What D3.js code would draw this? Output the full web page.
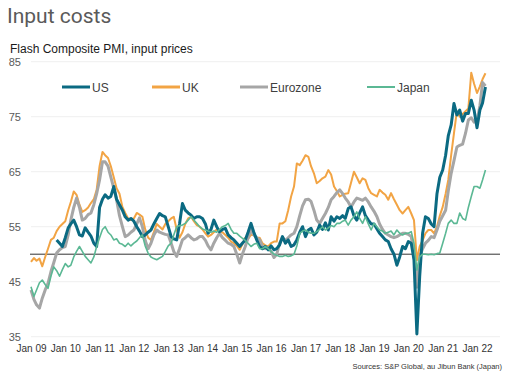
<!DOCTYPE html>
<html><head><meta charset="utf-8">
<script src="https://cdn.jsdelivr.net/npm/d3@7"></script>
<style>
body{margin:0;background:#fff;}
svg{display:block;font-family:"Liberation Sans",Arial,sans-serif;}
</style></head>
<body><svg id="c" width="529" height="380"></svg>
<script>
const title = "Input costs";
const subtitle = "Flash Composite PMI, input prices";
const source = "Sources: S&P Global, au Jibun Bank (Japan)";
const seriesNames = ["US","UK","Eurozone","Japan"];
const seriesColors = ["#0b6a82","#f2a444","#a6a6a6","#5bb894"];
const yTicks = [35,45,55,65,75,85];
const xTickLabels = ["Jan 09","Jan 10","Jan 11","Jan 12","Jan 13","Jan 14","Jan 15","Jan 16","Jan 17","Jan 18","Jan 19","Jan 20","Jan 21","Jan 22"];
const refLine = 50;

const ukValues = [
48.6,49.3,48.8,49.2,47.8,49.5,51.0,52.6,53.0,54.2,55.0,55.5,
56.0,58.0,59.5,61.4,60.8,59.0,57.7,58.0,58.5,59.3,60.0,61.7,
66.0,68.6,68.0,67.5,66.0,64.0,62.0,61.0,58.6,57.5,56.5,56.2,
56.5,57.5,57.2,56.8,54.5,53.0,52.6,54.0,55.5,55.0,54.5,55.5,
56.0,56.5,56.8,54.5,53.0,54.0,55.5,56.5,56.8,56.0,55.3,55.0,
54.5,53.8,53.2,53.5,54.0,54.5,54.0,54.0,53.5,53.0,52.3,52.0,
51.5,50.8,51.8,53.0,52.8,53.5,53.5,53.0,53.0,52.0,51.6,51.4,
52.0,52.3,52.3,55.6,55.6,56.0,58.0,60.5,62.3,66.5,66.2,67.0,
68.0,67.7,66.0,64.7,62.9,63.3,63.8,64.1,65.3,64.5,62.3,61.5,
60.5,60.8,61.0,61.1,63.0,65.0,64.0,62.9,63.8,63.5,62.0,61.1,
60.8,60.5,61.7,61.2,60.8,59.9,61.1,60.0,59.0,58.0,57.4,58.0,
58.6,57.4,56.2,48.9,51.4,52.5,53.8,54.4,54.4,53.8,55.0,57.0,
58.6,61.0,63.5,68.0,72.0,76.0,75.0,75.5,76.0,76.5,83.0,81.0,
79.3,80.5,81.8,82.9];

const ezValues = [
43.5,41.8,40.8,40.2,42.0,43.5,44.7,46.8,48.5,50.2,50.8,51.2,
51.4,53.5,56.2,58.5,60.2,58.5,56.2,56.5,57.2,57.5,59.0,61.0,
63.5,66.8,66.8,66.0,64.0,62.0,59.9,57.0,55.0,53.2,53.5,54.0,
54.4,55.5,56.6,55.0,52.5,51.0,52.0,53.5,54.4,54.0,53.8,53.6,
53.5,52.0,50.5,49.6,51.0,52.6,53.0,53.5,53.0,52.6,52.8,53.2,
53.2,52.5,51.5,50.8,52.0,53.0,53.8,53.0,52.5,52.0,51.8,51.4,
50.0,48.4,50.0,51.4,53.0,54.4,53.5,53.0,52.6,51.4,51.0,51.2,
50.5,49.4,50.0,52.0,53.0,52.5,53.0,53.5,53.8,55.0,57.0,58.8,
59.9,60.0,59.6,58.0,56.2,55.6,56.5,57.4,58.5,59.9,60.5,61.2,
61.7,61.0,60.2,59.5,58.6,59.5,60.2,60.0,59.8,60.2,59.5,58.6,
57.8,56.8,55.5,54.5,53.8,53.5,53.2,53.0,53.2,53.5,53.8,53.8,
53.6,53.2,50.0,44.0,49.6,51.0,52.0,52.5,53.2,53.0,54.4,56.0,
57.0,58.0,61.5,64.7,67.0,69.5,69.8,70.0,72.0,74.4,74.8,74.0,
74.2,77.0,81.2,80.6];

const usValues = [
null,null,null,null,null,null,null,null,null,52.6,52.0,51.4,
53.0,54.8,55.5,56.2,55.0,53.5,53.3,54.8,54.0,53.3,52.0,51.4,
58.5,60.0,60.8,60.2,60.5,62.3,60.0,59.0,58.0,56.8,56.2,56.5,
56.0,55.0,54.2,53.2,53.5,54.0,54.4,55.5,56.5,57.4,57.0,56.8,
55.0,53.2,52.8,52.6,55.5,59.2,58.0,57.5,57.1,56.5,56.8,56.8,
56.5,55.5,53.8,54.5,56.2,55.0,54.1,54.5,54.7,53.5,53.0,52.6,
52.0,51.4,52.0,52.6,54.0,55.6,54.0,52.6,51.4,51.0,51.4,50.8,
51.5,50.8,51.0,51.7,53.2,52.0,52.6,51.4,51.7,52.6,54.0,55.0,
53.2,54.4,54.7,53.5,54.0,55.3,54.5,55.7,54.4,56.8,56.0,56.8,
56.5,57.0,56.5,58.3,58.6,57.0,56.2,57.5,58.6,57.0,56.2,55.5,
55.5,54.6,53.8,53.2,52.6,52.3,51.0,50.0,48.0,49.5,51.4,51.0,
52.3,52.0,49.0,35.5,46.0,53.8,56.8,56.5,55.5,55.0,61.0,64.0,
65.3,68.0,71.5,73.5,77.4,75.3,76.2,74.2,75.6,75.6,78.0,76.2,
73.0,76.2,77.5,80.4];

const japanValues = [
44.1,42.3,43.5,44.8,45.3,44.5,43.8,46.0,47.7,47.0,46.0,47.2,
48.3,47.7,48.0,49.5,50.5,51.4,50.5,49.6,49.0,48.4,49.5,51.4,
53.0,54.5,55.0,54.0,53.5,52.6,52.8,52.0,51.8,51.4,52.0,51.5,
52.0,52.4,53.0,53.5,51.5,50.2,49.5,49.2,49.0,49.3,49.6,50.5,
51.5,52.0,53.5,55.0,55.2,55.3,55.6,56.2,56.8,56.2,55.6,55.0,
54.6,54.4,54.2,54.0,54.2,54.0,54.5,55.0,55.2,55.6,54.5,53.8,
53.8,53.3,52.9,52.5,52.0,51.4,51.8,52.0,51.0,51.0,51.4,51.0,
50.5,50.0,49.8,49.6,49.6,49.8,49.6,49.7,50.0,51.5,53.8,54.2,
54.4,54.0,53.8,53.8,54.1,54.5,55.0,54.4,54.8,55.2,55.0,55.6,
55.6,56.0,56.2,55.3,56.2,56.8,57.7,56.5,55.6,56.8,55.5,54.4,
55.6,55.0,54.4,54.2,53.8,54.0,54.2,53.5,54.4,53.8,53.5,53.8,
53.8,54.1,52.0,47.1,49.5,50.0,50.0,49.9,50.0,49.9,50.1,50.2,
52.0,53.8,55.6,56.2,55.6,55.6,57.5,56.5,56.2,58.5,60.5,62.3,
62.3,62.0,63.5,65.3];

const seriesValues = [usValues, ukValues, ezValues, japanValues];
const strokeWidths = [3, 2, 3, 1.6];
const drawOrder = [1, 2, 0, 3];

const months = d3.timeMonth.range(new Date(2009,0,1), new Date(2022,4,1));
const tickDates = xTickLabels.map((_, i) => new Date(2009 + i, 0, 1));

const svg = d3.select("#c");
const x = d3.scaleTime().domain([new Date(2009,0,1), new Date(2022,0,1)]).range([31, 477]);
const y = d3.scaleLinear().domain([35, 85]).range([336.7, 61.7]);

svg.append("text").attr("x", 7).attr("y", 23).text(title)
  .attr("font-family", "Roboto, 'Liberation Sans', sans-serif")
  .attr("font-size", 21).attr("fill", "#5a5a5a");
svg.append("text").attr("x", 10).attr("y", 53).text(subtitle)
  .attr("font-size", 12).attr("fill", "#1a1a1a");

// grid
svg.append("g").selectAll("line").data(yTicks).join("line")
  .attr("x1", 31).attr("x2", 500)
  .attr("y1", d => y(d)).attr("y2", d => y(d))
  .attr("stroke", "#efefef").attr("stroke-width", 1);

// y axis labels
const ya = svg.append("g").attr("transform", "translate(21,0)")
  .call(d3.axisLeft(y).tickValues(yTicks).tickSize(0).tickPadding(0));
ya.select(".domain").remove();
ya.selectAll("text").attr("font-size", 11).attr("fill", "#5a5a5a")
  .attr("font-family", "'Liberation Sans', Arial, sans-serif");

// x axis labels
const xa = svg.append("g").attr("transform", "translate(0,342)")
  .call(d3.axisBottom(x).tickValues(tickDates).tickSize(0).tickPadding(3)
    .tickFormat((d, i) => xTickLabels[i]));
xa.select(".domain").remove();
xa.selectAll("text").attr("font-size", 10).attr("fill", "#333")
  .attr("font-family", "'Liberation Sans', Arial, sans-serif");

// reference line
svg.append("line").attr("x1", 30).attr("x2", 500)
  .attr("y1", y(refLine)).attr("y2", y(refLine))
  .attr("stroke", "#333").attr("stroke-width", 1);

// series
const line = d3.line()
  .defined(d => d.v != null)
  .x(d => x(d.date)).y(d => y(d.v));
drawOrder.forEach(si => {
  const data = months.map((m, i) => ({date: m, v: seriesValues[si][i]}));
  svg.append("path").datum(data).attr("d", line)
    .attr("fill", "none").attr("stroke", seriesColors[si])
    .attr("stroke-width", strokeWidths[si]).attr("stroke-linejoin", "round");
});

// legend
const legendX = [62, 152, 240, 367];
const lg = svg.append("g");
seriesNames.forEach((n, i) => {
  lg.append("line").attr("x1", legendX[i]).attr("x2", legendX[i] + 28)
    .attr("y1", 87).attr("y2", 87).attr("stroke", seriesColors[i])
    .attr("stroke-width", i === 3 ? 2 : 3);
  lg.append("text").attr("x", legendX[i] + 30).attr("y", 91.5).text(n)
    .attr("font-size", 12).attr("fill", "#404040");
});

svg.append("text").attr("x", 502).attr("y", 369).attr("text-anchor", "end")
  .text(source).attr("font-size", 7.5).attr("fill", "#333");
</script></body></html>
